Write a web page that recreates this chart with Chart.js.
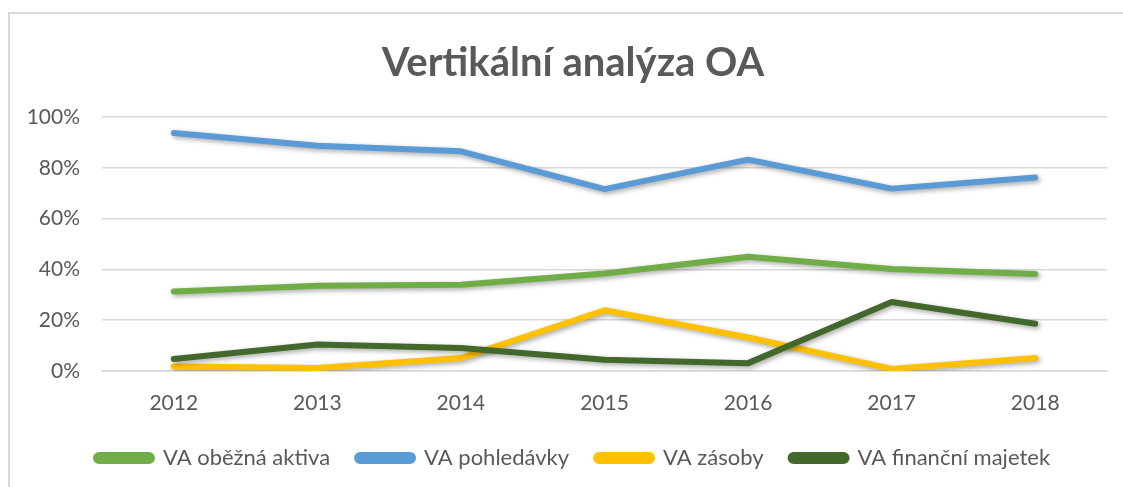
<!DOCTYPE html>
<html>
<head>
<meta charset="utf-8">
<script src="https://cdn.jsdelivr.net/npm/chart.js@4/dist/chart.umd.min.js"></script>
<style>
  html, body { margin: 0; padding: 0; background: #ffffff; overflow: hidden; }
  #frame { position: absolute; left: 8px; top: 12px; width: 1200px; height: 600px; border: 2px solid #d9d9d9; box-sizing: border-box; }
  #wrap { position: absolute; left: 0; top: 0; width: 1146px; height: 487px; }
</style>
</head>
<body>
<div id="frame"></div>
<div id="wrap"><canvas id="c" width="1146" height="487"></canvas></div>
<script>
const categories = ['2012', '2013', '2014', '2015', '2016', '2017', '2018'];
const obeznaAktiva = [31.3, 33.6, 34.0, 38.4, 45.0, 40.2, 38.2];
const pohledavky = [93.7, 88.7, 86.5, 71.6, 83.2, 71.8, 76.2];
const zasoby = [1.8, 1.2, 5.1, 23.9, 13.2, 0.8, 5.1];
const financniMajetek = [4.7, 10.4, 9.1, 4.4, 3.1, 27.2, 18.6];
const seriesNames = ['VA oběžná aktiva', 'VA pohledávky', 'VA zásoby', 'VA finanční majetek'];
const yTicks = [0, 20, 40, 60, 80, 100];

const colors = ['#70AD47', '#5B9BD5', '#FFC000', '#43682B'];
const values = [obeznaAktiva, pohledavky, zasoby, financniMajetek];

const shadowPlugin = {
  id: 'shadow',
  beforeDatasetDraw(chart) {
    const ctx = chart.ctx;
    ctx.save();
    ctx.shadowColor = 'rgba(0,0,0,0.35)';
    ctx.shadowBlur = 5;
    ctx.shadowOffsetX = 2;
    ctx.shadowOffsetY = 2;
  },
  afterDatasetDraw(chart) {
    chart.ctx.restore();
  }
};

new Chart(document.getElementById('c'), {
  type: 'line',
  data: {
    labels: categories,
    datasets: values.map((v, i) => ({
      label: seriesNames[i],
      data: v,
      borderColor: colors[i],
      backgroundColor: colors[i],
      borderWidth: 6,
      pointRadius: 0,
      pointHoverRadius: 0,
      tension: 0,
      borderCapStyle: 'round',
      borderJoinStyle: 'round',
      fill: false,
      order: 4 - i
    }))
  },
  plugins: [shadowPlugin],
  options: {
    responsive: false,
    animation: false,
    layout: { padding: { top: 39, right: 0, bottom: 8, left: 0 } },
    plugins: {
      tooltip: { enabled: false },
      title: {
        display: true,
        text: 'Vertikální analýza OA',
        color: '#595959',
        font: { family: 'Lato', size: 40, weight: 'bold' },
        padding: { top: 0, bottom: 30 }
      },
      legend: {
        position: 'bottom',
        labels: {
          sort: (a, b) => a.datasetIndex - b.datasetIndex,
          color: '#595959',
          font: { family: 'Lato', size: 22 },
          boxWidth: 56,
          boxHeight: 6,
          useBorderRadius: true,
          borderRadius: 3,
          padding: 27
        }
      }
    },
    scales: {
      x: {
        offset: true,
        afterFit: (s) => { s.height = 49; },
        grid: { display: false, drawTicks: false },
        border: { display: true, color: '#d9d9d9', width: 1.5 },
        ticks: { color: '#595959', font: { family: 'Lato', size: 21 }, padding: 20 }
      },
      y: {
        min: 0,
        max: 100,
        afterFit: (s) => { s.width = 102; },
        afterBuildTicks: (s) => { s.ticks = yTicks.map(v => ({ value: v })); },
        grid: { color: '#d9d9d9', lineWidth: 1.5, drawTicks: false },
        border: { display: false },
        ticks: {
          color: '#595959',
          font: { family: 'Lato', size: 21 },
          padding: 22,
          callback: (v) => v + '%'
        }
      },
      y2: {
        position: 'right',
        display: true,
        min: 0,
        max: 100,
        afterFit: (s) => { s.width = 39; },
        grid: { display: false, drawTicks: false },
        border: { display: false },
        ticks: { display: false }
      }
    }
  }
});
</script>
</body>
</html>
